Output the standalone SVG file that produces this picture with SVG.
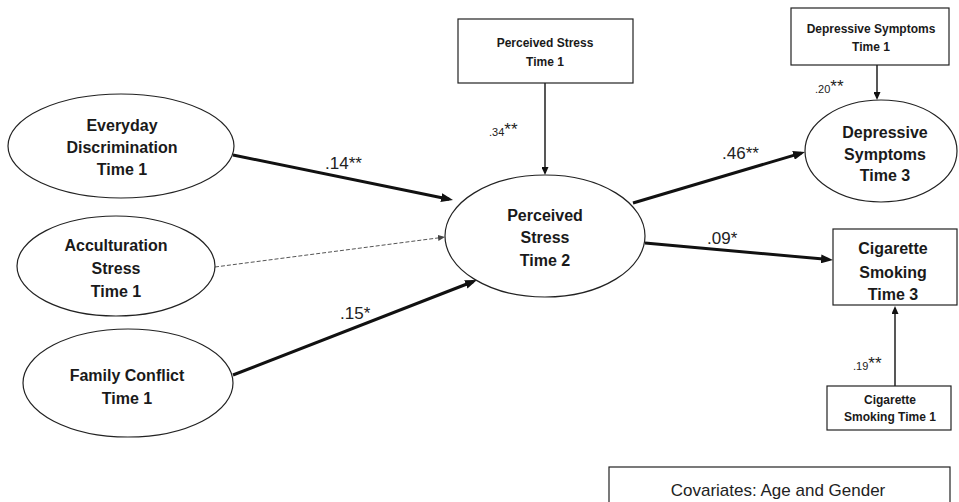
<svg xmlns="http://www.w3.org/2000/svg" width="959" height="502" viewBox="0 0 959 502">
<style>
  .shape { fill: #fff; stroke: #222; stroke-width: 1.2; }
  .big { font-family: "Liberation Sans", Arial, sans-serif; font-weight: bold; font-size: 16px; fill: #1a1a1a; text-anchor: middle; }
  .small { font-family: "Liberation Sans", Arial, sans-serif; font-weight: bold; font-size: 12px; fill: #1a1a1a; text-anchor: middle; }
  .lbl { font-family: "Liberation Sans", Arial, sans-serif; font-size: 17px; fill: #222; }
  .coef { font-family: "Liberation Sans", Arial, sans-serif; font-size: 11px; fill: #222; }
  .star { font-size: 17px; }
  .thick { fill: none; stroke: #111; stroke-width: 3; }
  .thin { fill: none; stroke: #111; stroke-width: 1.4; }
  .dash { fill: none; stroke: #555; stroke-width: 1; stroke-dasharray: 4 2; }
  .cov { font-family: "Liberation Sans", Arial, sans-serif; font-size: 17px; fill: #222; text-anchor: middle; }
</style>
<defs>
  <marker id="headThick" markerUnits="userSpaceOnUse" markerWidth="12" markerHeight="9" refX="8" refY="4.5" orient="auto">
    <path d="M0,0 L12,4.5 L0,9 z" fill="#111"/>
  </marker>
  <marker id="headThin" markerUnits="userSpaceOnUse" markerWidth="8" markerHeight="7" refX="6" refY="3.5" orient="auto">
    <path d="M0,0 L8,3.5 L0,7 z" fill="#111"/>
  </marker>
  <marker id="headDash" markerUnits="userSpaceOnUse" markerWidth="7" markerHeight="6" refX="5" refY="3" orient="auto">
    <path d="M0,0 L7,3 L0,6 z" fill="#444"/>
  </marker>
</defs>

<g id="connectors">
  <line class="thick" x1="233" y1="155" x2="449.1" y2="199.2" marker-end="url(#headThick)"/>
  <line class="thick" x1="233" y1="375" x2="473.3" y2="281.5" marker-end="url(#headThick)"/>
  <line class="thick" x1="633" y1="203" x2="801.2" y2="153.1" marker-end="url(#headThick)"/>
  <line class="thick" x1="645" y1="243" x2="829" y2="259.6" marker-end="url(#headThick)"/>
  <line class="dash" x1="215" y1="267" x2="443" y2="237.3" marker-end="url(#headDash)"/>
  <line class="thin" x1="545" y1="83" x2="545" y2="173" marker-end="url(#headThin)"/>
  <line class="thin" x1="877" y1="65" x2="877" y2="98" marker-end="url(#headThin)"/>
  <line class="thin" x1="895" y1="386" x2="895" y2="308" marker-end="url(#headThin)"/>
  <text class="lbl" x="325" y="169">.14**</text>
  <text class="lbl" x="340" y="319">.15*</text>
  <text class="lbl" x="722" y="159">.46**</text>
  <text class="lbl" x="707" y="244">.09*</text>
  <text class="coef" x="489" y="136">.34<tspan class="star" dy="-1">**</tspan></text>
  <text class="coef" x="815" y="93">.20<tspan class="star" dy="-1">**</tspan></text>
  <text class="coef" x="853" y="370">.19<tspan class="star" dy="-1">**</tspan></text>
</g>

<g id="everyday">
  <ellipse class="shape" cx="121" cy="146" rx="113" ry="52"/>
  <text class="big" x="122" y="131">Everyday</text>
  <text class="big" x="122" y="153">Discrimination</text>
  <text class="big" x="122" y="175">Time 1</text>
</g>
<g id="acculturation">
  <ellipse class="shape" cx="116" cy="266" rx="99" ry="50"/>
  <text class="big" x="116" y="251">Acculturation</text>
  <text class="big" x="116" y="274">Stress</text>
  <text class="big" x="116" y="297">Time 1</text>
</g>
<g id="family">
  <ellipse class="shape" cx="128" cy="383" rx="105" ry="54"/>
  <text class="big" x="127" y="381">Family Conflict</text>
  <text class="big" x="127" y="404">Time 1</text>
</g>
<g id="stress2">
  <ellipse class="shape" cx="545" cy="236" rx="100" ry="61"/>
  <text class="big" x="545" y="221">Perceived</text>
  <text class="big" x="545" y="243">Stress</text>
  <text class="big" x="545" y="266">Time 2</text>
</g>
<g id="stress1">
  <rect class="shape" x="458" y="19" width="175" height="64"/>
  <text class="small" x="545" y="47">Perceived Stress</text>
  <text class="small" x="545" y="66">Time 1</text>
</g>
<g id="dep1">
  <rect class="shape" x="791" y="8" width="158" height="57"/>
  <text class="small" x="871" y="33">Depressive Symptoms</text>
  <text class="small" x="871" y="51">Time 1</text>
</g>
<g id="dep3">
  <ellipse class="shape" cx="881" cy="151" rx="76" ry="51"/>
  <text class="big" x="885" y="138">Depressive</text>
  <text class="big" x="885" y="160">Symptoms</text>
  <text class="big" x="885" y="181">Time 3</text>
</g>
<g id="cig3">
  <rect class="shape" x="833" y="229" width="124" height="76"/>
  <text class="big" x="893" y="254">Cigarette</text>
  <text class="big" x="893" y="278">Smoking</text>
  <text class="big" x="893" y="300">Time 3</text>
</g>
<g id="cig1">
  <rect class="shape" x="827" y="386" width="124" height="44"/>
  <text class="small" x="890" y="404">Cigarette</text>
  <text class="small" x="890" y="421">Smoking Time 1</text>
</g>
<g id="covariates">
  <rect class="shape" x="609" y="467" width="341" height="40"/>
  <text class="cov" x="778" y="496">Covariates: Age and Gender</text>
</g>
</svg>
